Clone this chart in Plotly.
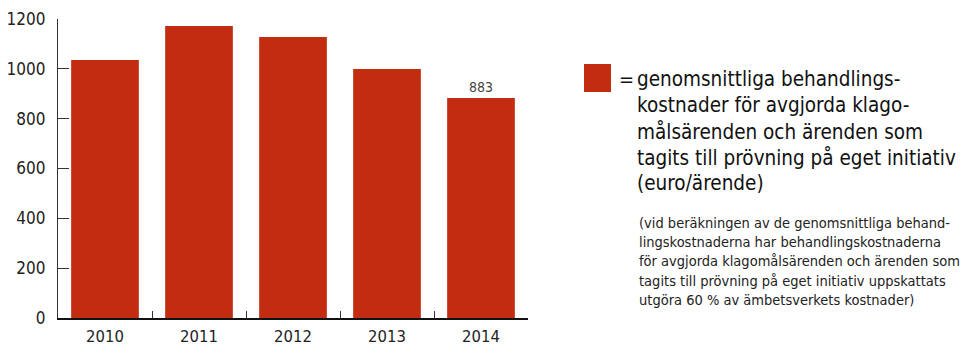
import plotly.graph_objects as go

years = ["2010", "2011", "2012", "2013", "2014"]
values = [1035, 1172, 1128, 999, 883]
labelled = [False, False, False, False, True]

legend_lines = [
    "genomsnittliga behandlings-",
    "kostnader för avgjorda klago-",
    "målsärenden och ärenden som",
    "tagits till prövning på eget initiativ",
    "(euro/ärende)",
]
note_lines = [
    "(vid beräkningen av de genomsnittliga behand-",
    "lingskostnaderna har behandlingskostnaderna",
    "för avgjorda klagomålsärenden och ärenden som",
    "tagits till prövning på eget initiativ uppskattats",
    "utgöra 60 % av ämbetsverkets kostnader)",
]

BAR = "#C22D12"
FONT = "DejaVu Sans Condensed, sans-serif"

W, H = 967, 348
L, R, T, B = 58, 528, 19, 318

def px(xp):
    return (xp - L) / (R - L)

def py(yp):
    return (B - yp) / (B - T)

fig = go.Figure()
fig.add_trace(go.Bar(
    x=years, y=values,
    marker=dict(color=BAR, line=dict(width=0)),
    text=[str(v) if s else "" for v, s in zip(values, labelled)],
    textposition="outside",
    textfont=dict(family=FONT, size=14, color="#444"),
    cliponaxis=False,
    hoverinfo="skip",
))

annotations = []
annotations.append(dict(xref="paper", yref="paper", x=px(617), y=py(79),
                        text="=", showarrow=False, xanchor="left", yanchor="middle",
                        font=dict(family=FONT, size=20, color="#111")))
for i, line in enumerate(legend_lines):
    annotations.append(dict(xref="paper", yref="paper", x=px(635), y=py(79 + 26 * i),
                            text=line, showarrow=False, xanchor="left", yanchor="middle",
                            font=dict(family=FONT, size=20.5, color="#111")))
for i, line in enumerate(note_lines):
    annotations.append(dict(xref="paper", yref="paper", x=px(637), y=py(223 + 19.2 * i),
                            text=line, showarrow=False, xanchor="left", yanchor="middle",
                            font=dict(family=FONT, size=14.5, color="#222")))

fig.add_shape(type="rect", xref="paper", yref="paper",
              x0=px(584), x1=px(611), y0=py(92), y1=py(64),
              fillcolor=BAR, line=dict(width=0))

fig.update_layout(
    width=W, height=H,
    margin=dict(l=L, r=W - R, t=T, b=H - B, pad=0, autoexpand=False),
    paper_bgcolor="white", plot_bgcolor="white",
    showlegend=False,
    bargap=0.28,
    annotations=annotations,
    font=dict(family=FONT, size=17, color="#222"),
    xaxis=dict(
        type="category", showline=True, linecolor="#111", linewidth=1.5,
        ticks="inside", tickson="boundaries", ticklen=7, tickcolor="#333", tickwidth=1.2,
        showgrid=False, zeroline=False, automargin=False,
        tickfont=dict(family=FONT, size=16.5, color="#222"),
        ticklabelstandoff=2,
    ),
    yaxis=dict(
        range=[0, 1200], tickvals=[0, 200, 400, 600, 800, 1000, 1200],
        showline=True, linecolor="#333", linewidth=1.2,
        ticks="inside", ticklen=11, tickcolor="#333", tickwidth=1.2,
        showgrid=False, zeroline=False, automargin=False,
        tickfont=dict(family=FONT, size=17, color="#222"),
        ticklabelstandoff=8,
    ),
)

fig.write_html("out.html")
